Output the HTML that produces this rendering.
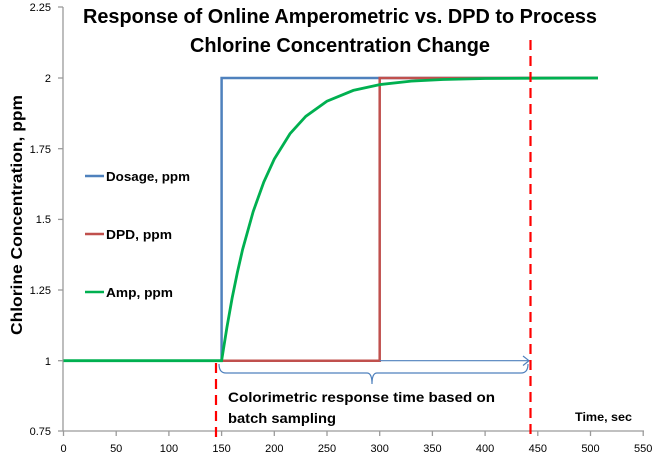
<!DOCTYPE html>
<html><head><meta charset="utf-8"><style>
html,body{margin:0;padding:0;background:#fff;}
svg{display:block;font-family:"Liberation Sans",sans-serif;}
</style></head><body>
<svg width="655" height="474" viewBox="0 0 655 474">
<rect width="655" height="474" fill="#fff"/>
<g stroke="#9a9a9a" stroke-width="1.3" fill="none">
<line x1="63" y1="7" x2="63" y2="431"/>
<line x1="63" y1="431" x2="644" y2="431"/>
<line x1="58" y1="7" x2="63" y2="7"/>
<line x1="58" y1="78" x2="63" y2="78"/>
<line x1="58" y1="148.7" x2="63" y2="148.7"/>
<line x1="58" y1="219.4" x2="63" y2="219.4"/>
<line x1="58" y1="290" x2="63" y2="290"/>
<line x1="58" y1="360.7" x2="63" y2="360.7"/>
<line x1="58" y1="431" x2="63" y2="431"/>
<line x1="63.5" y1="431" x2="63.5" y2="436"/>
<line x1="116.2" y1="431" x2="116.2" y2="436"/>
<line x1="168.9" y1="431" x2="168.9" y2="436"/>
<line x1="221.6" y1="431" x2="221.6" y2="436"/>
<line x1="274.3" y1="431" x2="274.3" y2="436"/>
<line x1="327" y1="431" x2="327" y2="436"/>
<line x1="379.7" y1="431" x2="379.7" y2="436"/>
<line x1="432.4" y1="431" x2="432.4" y2="436"/>
<line x1="485.1" y1="431" x2="485.1" y2="436"/>
<line x1="537.8" y1="431" x2="537.8" y2="436"/>
<line x1="590.5" y1="431" x2="590.5" y2="436"/>
<line x1="643.2" y1="431" x2="643.2" y2="436"/>
</g>
<g font-size="11" fill="#000" text-anchor="end">
<text x="51" y="11">2.25</text>
<text x="51" y="82">2</text>
<text x="51" y="153">1.75</text>
<text x="51" y="223">1.5</text>
<text x="51" y="294">1.25</text>
<text x="51" y="365">1</text>
<text x="51" y="435">0.75</text>
</g>
<g font-size="11" fill="#000" text-anchor="middle">
<text x="63.5" y="452">0</text>
<text x="116.2" y="452">50</text>
<text x="168.9" y="452">100</text>
<text x="221.6" y="452">150</text>
<text x="274.3" y="452">200</text>
<text x="327" y="452">250</text>
<text x="379.7" y="452">300</text>
<text x="432.4" y="452">350</text>
<text x="485.1" y="452">400</text>
<text x="537.8" y="452">450</text>
<text x="590.5" y="452">500</text>
<text x="643.2" y="452">550</text>
</g>
<g font-weight="bold" font-size="20" text-anchor="middle" fill="#000">
<text x="340" y="23" textLength="514" lengthAdjust="spacingAndGlyphs">Response of Online Amperometric vs. DPD to Process</text>
<text x="340" y="52" textLength="300" lengthAdjust="spacingAndGlyphs">Chlorine Concentration Change</text>
</g>
<text transform="translate(22,215) rotate(-90)" text-anchor="middle" font-weight="bold" font-size="16" textLength="240" lengthAdjust="spacingAndGlyphs">Chlorine Concentration, ppm</text>
<polyline fill="none" stroke="#4f81bd" stroke-width="2.5" points="63.5,360.7 221.6,360.7 221.6,78 598,78"/>
<polyline fill="none" stroke="#c0504d" stroke-width="2.5" points="221.6,360.7 379.7,360.7 379.7,78 598,78"/>
<polyline fill="none" stroke="#00b050" stroke-width="2.8" points="63.5,360.7 221.6,360.7 226.9,327.5 232.1,298.2 237.4,272.3 242.6,249.5 253.2,211.5 263.8,182 274.3,159 290,133.7 305.8,116.3 326.9,101.2 353.3,90.4 379.7,84.6 411.2,81.1 443,79.5 485,78.5 537.8,78.2 598,78"/>
<g stroke="#4f81bd" stroke-width="1.2" fill="none">
<line x1="379.7" y1="360.7" x2="529" y2="360.7"/>
<polyline points="523,356 529,360.7 523,365.5"/>
<path d="M219,364 Q219,373 226,373 L367,373 Q372,373 372,384 Q372,373 377,373 L521,373 Q528,373 528,364"/>
</g>
<g stroke="#ff0000" stroke-width="2.2" stroke-dasharray="10,6">
<line x1="216" y1="363" x2="216" y2="437"/>
<line x1="530.5" y1="40" x2="530.5" y2="437"/>
</g>
<g font-weight="bold" font-size="14" fill="#000">
<text x="228" y="402" textLength="267" lengthAdjust="spacingAndGlyphs">Colorimetric response time based on</text>
<text x="228" y="423" textLength="108" lengthAdjust="spacingAndGlyphs">batch sampling</text>
<text x="575" y="421" font-size="12" textLength="57" lengthAdjust="spacingAndGlyphs">Time, sec</text>
</g>
<line x1="85" y1="176" x2="104" y2="176" stroke="#4f81bd" stroke-width="2.5"/>
<line x1="85" y1="234" x2="104" y2="234" stroke="#c0504d" stroke-width="2.5"/>
<line x1="85" y1="292" x2="104" y2="292" stroke="#00b050" stroke-width="2.5"/>
<g font-weight="bold" font-size="13" fill="#000">
<text x="106" y="181" textLength="84" lengthAdjust="spacingAndGlyphs">Dosage, ppm</text>
<text x="106" y="239" textLength="66" lengthAdjust="spacingAndGlyphs">DPD, ppm</text>
<text x="106" y="297" textLength="67" lengthAdjust="spacingAndGlyphs">Amp, ppm</text>
</g>
</svg>
</body></html>
